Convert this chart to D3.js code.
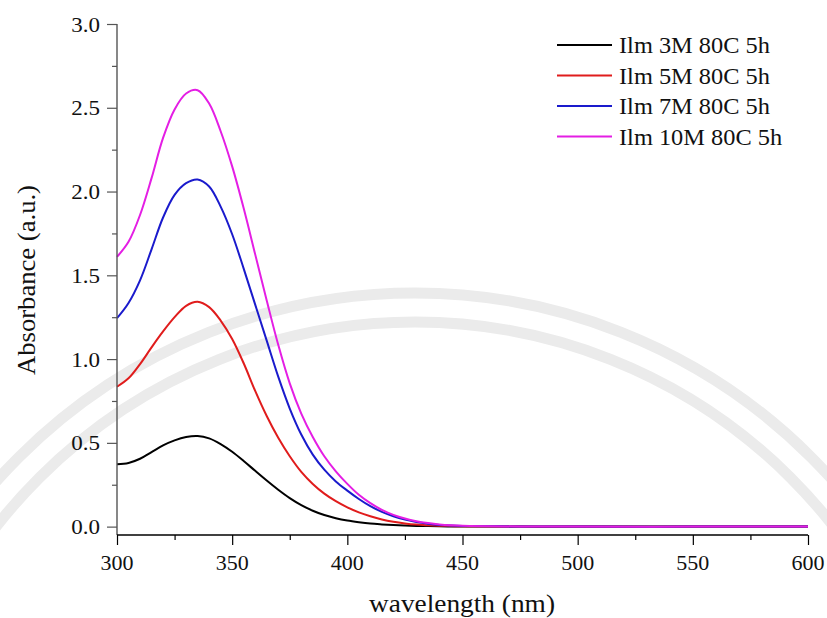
<!DOCTYPE html>
<html>
<head>
<meta charset="utf-8">
<script src="https://cdn.jsdelivr.net/npm/d3@7/dist/d3.min.js"></script>
<style>
  html, body { margin: 0; padding: 0; background: #fff; }
  svg { display: block; }
</style>
</head>
<body>
<svg id="chart" width="827" height="618"></svg>
<script>
// UV-Vis absorbance spectra
const wavelengths = [300,305,310,315,320,325,330,335,340,345,350,355,360,365,370,375,380,385,390,395,400,405,410,415,420,425,430,435,440,445,450,475,500,550,600];

const ilm3M  = [0.372,0.38,0.405,0.445,0.485,0.515,0.535,0.541,0.527,0.493,0.447,0.392,0.333,0.275,0.22,0.17,0.128,0.095,0.069,0.05,0.036,0.026,0.018,0.013,0.009,0.006,0.004,0.003,0.002,0.001,0.001,0,0,0,0];
const ilm5M  = [0.835,0.885,0.97,1.07,1.165,1.25,1.318,1.342,1.31,1.23,1.12,0.975,0.81,0.66,0.53,0.42,0.327,0.255,0.197,0.152,0.115,0.085,0.062,0.043,0.029,0.019,0.012,0.008,0.005,0.003,0.002,0.001,0,0,0];
const ilm7M  = [1.244,1.335,1.47,1.655,1.845,1.98,2.05,2.072,2.03,1.91,1.745,1.54,1.325,1.11,0.895,0.705,0.55,0.43,0.34,0.27,0.215,0.165,0.122,0.088,0.062,0.042,0.027,0.017,0.01,0.006,0.004,0.001,0,0,0];
const ilm10M = [1.61,1.70,1.86,2.08,2.32,2.49,2.585,2.605,2.525,2.36,2.15,1.90,1.625,1.35,1.085,0.855,0.675,0.535,0.42,0.33,0.255,0.19,0.14,0.10,0.07,0.048,0.032,0.021,0.013,0.008,0.005,0.001,0,0,0];

const seriesNames  = ["Ilm 3M 80C 5h", "Ilm 5M 80C 5h", "Ilm 7M 80C 5h", "Ilm 10M 80C 5h"];
const seriesColors = ["#000000", "#e01c1c", "#1a1acc", "#e41ee4"];
const seriesValues = [ilm3M, ilm5M, ilm7M, ilm10M];

const xTicks = [300, 350, 400, 450, 500, 550, 600];
const yTicks = [0.0, 0.5, 1.0, 1.5, 2.0, 2.5, 3.0];

const FONT = "'Liberation Serif', 'Times New Roman', Times, serif";

const svg = d3.select("#chart");
const plotLeft = 117, plotRight = 808, plotTop = 24, plotBottom = 535;

const x = d3.scaleLinear().domain([300, 600]).range([plotLeft, plotRight]);
const y = d3.scaleLinear().domain([-0.05, 3.0]).range([plotBottom, plotTop]);

// Faint background seal arcs
const seal = svg.append("g").attr("fill", "none").attr("stroke", "#ebebeb").attr("stroke-width", 11);
[560, 531].forEach(r => {
  seal.append("circle").attr("cx", 415).attr("cy", 853).attr("r", r);
});

// Curves
const line = d3.line()
  .x(d => x(d[0]))
  .y(d => y(d[1]))
  .curve(d3.curveCatmullRom.alpha(0.5));

seriesValues.forEach((vals, i) => {
  svg.append("path")
    .datum(wavelengths.map((w, j) => [w, vals[j]]))
    .attr("fill", "none")
    .attr("stroke", seriesColors[i])
    .attr("stroke-width", 2)
    .attr("stroke-linejoin", "round")
    .attr("d", line);
});

// Y axis with minor ticks
const yAxisG = svg.append("g").attr("transform", `translate(${plotLeft},0)`);
yAxisG.call(d3.axisLeft(y).tickValues(d3.range(0, 3.01, 0.25)).tickSize(5).tickFormat(""));
yAxisG.call(g => g.selectAll(".tick").filter(d => Math.abs(d * 2 - Math.round(d * 2)) < 1e-6).select("line").attr("x2", -10));
yAxisG.selectAll("path.domain").remove();
yAxisG.selectAll("line").attr("stroke", "#555").attr("stroke-width", 1.2);
yAxisG.append("line").attr("x1", 0).attr("x2", 0).attr("y1", plotTop).attr("y2", plotBottom).attr("stroke", "#555").attr("stroke-width", 1.4);
yAxisG.selectAll(".ylab").data(yTicks).enter().append("text")
  .attr("class", "ylab")
  .attr("transform", d => `translate(-17,${y(d) + 7.5}) scale(1.15,1)`)
  .attr("text-anchor", "end")
  .style("font-family", FONT)
  .style("font-size", "20px")
  .style("fill", "#111")
  .text(d => d.toFixed(1));

// X axis with minor ticks
const xAxisG = svg.append("g").attr("transform", `translate(0,${plotBottom})`);
xAxisG.call(d3.axisBottom(x).tickValues(d3.range(300, 601, 25)).tickSize(5).tickFormat(""));
xAxisG.call(g => g.selectAll(".tick").filter(d => d % 50 === 0).select("line").attr("y2", 10));
xAxisG.selectAll("path.domain").remove();
xAxisG.selectAll("line").attr("stroke", "#000").attr("stroke-width", 1.2);
xAxisG.append("line").attr("x1", plotLeft).attr("x2", plotRight).attr("y1", 0).attr("y2", 0).attr("stroke", "#000").attr("stroke-width", 1.4);
xAxisG.selectAll(".xlab").data(xTicks).enter().append("text")
  .attr("class", "xlab")
  .attr("transform", d => `translate(${x(d)},35) scale(1.1,1)`)
  .attr("text-anchor", "middle")
  .style("font-family", FONT)
  .style("font-size", "20px")
  .style("fill", "#111")
  .text(d => d);

// Axis titles
svg.append("text")
  .attr("x", 462).attr("y", 612)
  .attr("text-anchor", "middle")
  .attr("textLength", 186)
  .attr("lengthAdjust", "spacingAndGlyphs")
  .style("font-family", FONT)
  .style("font-size", "25px")
  .style("fill", "#111")
  .text("wavelength (nm)");

svg.append("text")
  .attr("transform", "translate(35,280) rotate(-90)")
  .attr("text-anchor", "middle")
  .attr("textLength", 190)
  .attr("lengthAdjust", "spacingAndGlyphs")
  .style("font-family", FONT)
  .style("font-size", "25px")
  .style("fill", "#111")
  .text("Absorbance (a.u.)");

// Legend
const legend = svg.append("g").attr("transform", "translate(557,45)");
seriesNames.forEach((name, i) => {
  const row = legend.append("g").attr("transform", `translate(0,${i * 30.5})`);
  row.append("line").attr("x1", 0).attr("x2", 55).attr("y1", 0).attr("y2", 0)
    .attr("stroke", seriesColors[i]).attr("stroke-width", 2);
  row.append("text")
    .attr("transform", "translate(62,8) scale(1.06,1)")
    .style("font-family", FONT)
    .style("font-size", "23px")
    .style("fill", "#111")
    .text(name);
});
</script>
</body>
</html>
